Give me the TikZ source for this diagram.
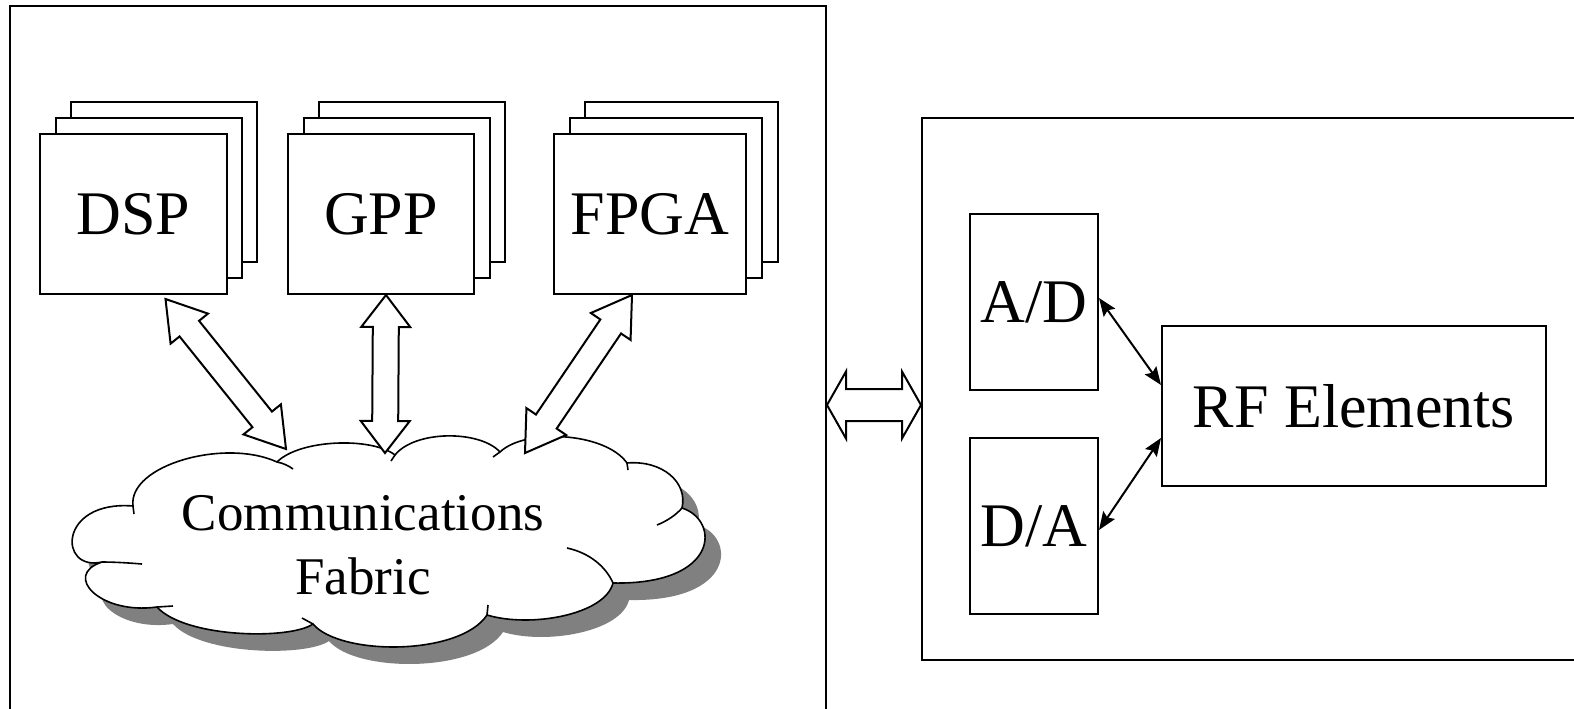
\documentclass[tikz,border=0pt]{standalone}
\usepackage{fontspec}
\setmainfont{Liberation Serif}
\usetikzlibrary{calc,fit,arrows.meta}
\newcommand\pxu{0.5pt}
% hollow double arrow: #1 start, #2 end, #3 head length, #4 half head width, #5 half shaft width
\newcommand\fatarrow[5]{%
\draw[fatstyle] (#1) -- ($(#1)!#3!(#2)!#4!90:(#2)$) -- ($(#1)!#3!(#2)!#5!90:(#2)$)
 -- ($(#2)!#3!(#1)!#5!-90:(#1)$) -- ($(#2)!#3!(#1)!#4!-90:(#1)$) -- (#2)
 -- ($(#2)!#3!(#1)!#4!90:(#1)$) -- ($(#2)!#3!(#1)!#5!90:(#1)$)
 -- ($(#1)!#3!(#2)!#5!-90:(#2)$) -- ($(#1)!#3!(#2)!#4!-90:(#2)$) -- cycle;}
\def\cloudpath{(102,562) .. controls (58,572) and (58,500) .. (133,506)
 .. controls (128,465) and (225,438) .. (277,462)
 .. controls (300,439) and (372,437) .. (395,455)
 .. controls (415,430) and (480,430) .. (500,452)
 .. controls (525,428) and (605,432) .. (627,463)
 .. controls (662,460) and (688,482) .. (682,508)
 .. controls (720,520) and (720,585) .. (613,583)
 .. controls (605,615) and (530,628) .. (487,615)
 .. controls (460,656) and (340,656) .. (313,624)
 .. controls (290,640) and (185,638) .. (157,607)
 .. controls (100,615) and (62,575) .. (102,562) -- cycle}
\definecolor{shadowgray}{RGB}{128,128,128}
\begin{document}
\begin{tikzpicture}[x=0.5pt,y=-0.5pt,
  box/.style={draw, line width=1pt, fill=white, inner sep=0pt},
  chip/.style={box, font=\fontsize{31}{36}\selectfont},
  fatstyle/.style={draw, fill=white, line width=1pt, line join=miter},
  cloudline/.style={line width=0.8pt},
  thinarrow/.style={line width=1pt, {Stealth[length=9pt,width=7pt,inset=1.5pt]}-{Stealth[length=9pt,width=7pt,inset=1.5pt]}}]
\fill[white] (0,0) rectangle (1574,708);
\clip (0,0) rectangle (1574,708);

% outer boxes
\node[box, fit={(10,6) (826,760)}] (host) {};
\node[box, fit={(922,118) (1620,660)}] (radio) {};

% processor stacks
\node[box, fit={(71,102) (257,262)}] (dsp3) {};
\node[box, fit={(56,118) (242,278)}] (dsp2) {};
\node[chip, minimum width=187*\pxu, minimum height=160*\pxu] (dsp) at (133.5,214) {DSP};
\node[box, fit={(319,102) (505,262)}] (gpp3) {};
\node[box, fit={(304,118) (490,278)}] (gpp2) {};
\node[chip, minimum width=186*\pxu, minimum height=160*\pxu] (gpp) at (381,214) {GPP};
\node[box, fit={(585,102) (778,262)}] (fpga3) {};
\node[box, fit={(570,118) (762,278)}] (fpga2) {};
\node[chip, minimum width=192*\pxu, minimum height=160*\pxu] (fpga) at (650,214) {FPGA};

% cloud
\fill[shadowgray, shift={(16,17)}] \cloudpath;
\filldraw[fill=white, draw=black, cloudline] \cloudpath;
\draw[cloudline] (133,506) -- (134,514);
\draw[cloudline] (277,462) .. controls (283,463) and (289,466) .. (293,469);
\draw[cloudline] (395,455) -- (391,461);
\draw[cloudline] (500,452) -- (493,457);
\draw[cloudline] (627,463) -- (628,470);
\draw[cloudline] (682,508) .. controls (676,515) and (667,521) .. (657,525);
\draw[cloudline] (613,583) .. controls (606,567) and (590,553) .. (567,548);
\draw[cloudline] (487,615) -- (488,605);
\draw[cloudline] (313,624) -- (302,618);
\draw[cloudline] (157,607) -- (173,606);
\draw[cloudline] (102,562) .. controls (115,562) and (130,563) .. (142,564);
\node[font=\fontsize{26.5}{32}\selectfont, align=center] (fabric) at (363,545) {Communications\\Fabric};

% converter and RF boxes
\node[chip, minimum width=128*\pxu, minimum height=176*\pxu] (ad) at (1034,302) {A/D};
\node[chip, minimum width=128*\pxu, minimum height=176*\pxu] (da) at (1034,526) {D/A};
\node[chip, minimum width=384*\pxu, minimum height=160*\pxu] (rf) at (1354,406) {RF Elements};

% connection points
\coordinate (dspT) at ($(dsp.south)+(32,4)$);
\coordinate (gppT) at ($(gpp.south)+(5,0)$);
\coordinate (fpgaT) at ($(fpga.south)+(-18,0)$);
\coordinate (fabA) at (286,449);
\coordinate (fabB) at (385,453);
\coordinate (fabC) at (525,453);
\coordinate (hostR) at ($(host.north east)+(0,400)$);
\coordinate (radioL) at ($(radio.north west)+(0,288)$);

\fatarrow{dspT}{fabA}{19pt}{12pt}{6.25pt}
\fatarrow{gppT}{fabB}{16pt}{12.25pt}{6.5pt}
\fatarrow{fpgaT}{fabC}{19pt}{12pt}{6.25pt}
\fatarrow{hostR}{radioL}{9.5pt}{16.75pt}{8pt}

\draw[thinarrow] ($(ad.east)+(0,-4)$) -- ($(rf.west)+(0,-21)$);
\draw[thinarrow] ($(da.east)+(0,4)$) -- ($(rf.west)+(0,32)$);
\end{tikzpicture}
\end{document}
